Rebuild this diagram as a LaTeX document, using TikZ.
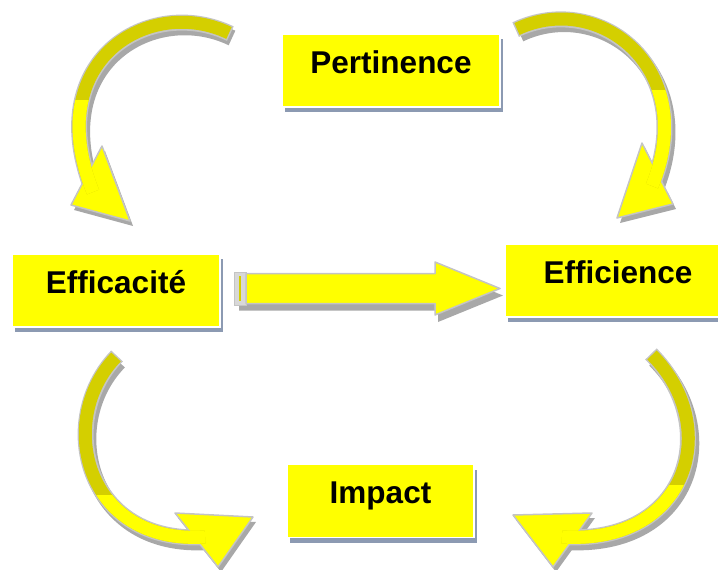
\documentclass[tikz,border=0pt]{standalone}
\usepackage{fontspec}
\setmainfont{Liberation Sans}[Ligatures=NoCommon]
\usetikzlibrary{shadows}
\definecolor{hiyellow}{RGB}{255,255,0}
\definecolor{darkyellow}{RGB}{212,207,0}
\definecolor{rimgray}{RGB}{196,196,196}
\definecolor{capgray}{RGB}{216,216,216}
\definecolor{shadegray}{RGB}{168,168,168}
\definecolor{boxshade}{RGB}{140,154,178}
\tikzset{box/.style = {fill=hiyellow, draw=white, line width=1.5pt, inner sep=0,
    text height=39pt, text depth=34pt, minimum height=73pt,
    font=\bfseries\fontsize{31.5}{38}\selectfont,
    drop shadow={shadow xshift=3pt, shadow yshift=-5pt, fill=boxshade, opacity=1}}}
\tikzset{rim/.style = {draw=rimgray, line width=16pt, shorten <=-1.5pt}}
\tikzset{band/.style = {line width=13pt}}

\begin{document}
\begin{tikzpicture}[x=1pt, y=-1pt]
  \clip (0,0) rectangle (718,570);

  \node [box, minimum width=218pt] (pert) at (391,70.5) {Pertinence};
  \node [box, minimum width=208pt] (effa) at (116,290.5) {Efficacité};
  \node [box, minimum width=226pt] (effi) at (618,280.5) {Efficience};
  \node [box, minimum width=187pt] (imp) at (380.5,501) {Impact};

  % curved arrows: tail, controls, end of shaft, head corners
  \coordinate (tl-tail) at (229,33);
  \coordinate (tl-c1) at (150,-5);
  \coordinate (tl-c2) at (40,60);
  \coordinate (tl-end) at (93,192);
  \coordinate (tl-h1) at (71,205);
  \coordinate (tl-h2) at (102,146);
  \coordinate (tl-h3) at (130,221);

  \coordinate (tr-tail) at (517,29);
  \coordinate (tr-c1) at (600,-10);
  \coordinate (tr-c2) at (700,70);
  \coordinate (tr-end) at (652,186);
  \coordinate (tr-h1) at (642,143);
  \coordinate (tr-h2) at (673,204);
  \coordinate (tr-h3) at (617,218);

  \coordinate (bl-tail) at (116,357);
  \coordinate (bl-c1) at (55,420);
  \coordinate (bl-c2) at (85,545);
  \coordinate (bl-end) at (205,537);
  \coordinate (bl-h1) at (175,513);
  \coordinate (bl-h2) at (218,567);
  \coordinate (bl-h3) at (253,517);

  \coordinate (br-tail) at (652,355);
  \coordinate (br-c1) at (722,425);
  \coordinate (br-c2) at (690,545);
  \coordinate (br-end) at (562,537);
  \coordinate (br-h1) at (592,513);
  \coordinate (br-h2) at (553,567);
  \coordinate (br-h3) at (513,515);

  \foreach \n/\cut in {tl/100, tr/90, bl/495, br/485} {
    \begin{scope}[transform canvas={shift={(3pt,-5pt)}}]
      \draw [shadegray, line width=16pt] (\n-tail) .. controls (\n-c1) and (\n-c2) .. (\n-end);
      \fill [shadegray] (\n-h1) -- (\n-h2) -- (\n-h3) -- cycle;
    \end{scope}
    \draw [rim] (\n-tail) .. controls (\n-c1) and (\n-c2) .. (\n-end);
    \filldraw [fill=hiyellow, draw=rimgray, line width=1.5pt, line join=round]
      (\n-h1) -- (\n-h2) -- (\n-h3) -- cycle;
    \draw [band, darkyellow] (\n-tail) .. controls (\n-c1) and (\n-c2) .. (\n-end);
    \begin{scope}
      \clip (0,\cut) rectangle (718,570);
      \draw [band, hiyellow] (\n-tail) .. controls (\n-c1) and (\n-c2) .. (\n-end);
    \end{scope}
  }

  % straight arrow between the two middle boxes
  \coordinate (ha-tail) at (246,288.5);
  \coordinate (ha-tip) at (500,288.5);
  \begin{scope}[transform canvas={shift={(3pt,-7pt)}}]
    \fill [shadegray] (236,273.5) -- (435,273.5) -- (435,262) -- (ha-tip)
      -- (435,315) -- (435,303.5) -- (236,303.5) -- cycle;
  \end{scope}
  \filldraw [fill=capgray, draw=rimgray] (234,272) rectangle (ha-tail |- 0,305);
  \draw [darkyellow, line width=2pt] (240,276) -- (240,301);
  \filldraw [fill=hiyellow, draw=rimgray, line width=1.5pt, line join=round]
    (246,273.5) -- (435,273.5) -- (435,262) -- (ha-tip)
    -- (435,315) -- (435,303.5) -- (246,303.5) -- cycle;
\end{tikzpicture}
\end{document}
